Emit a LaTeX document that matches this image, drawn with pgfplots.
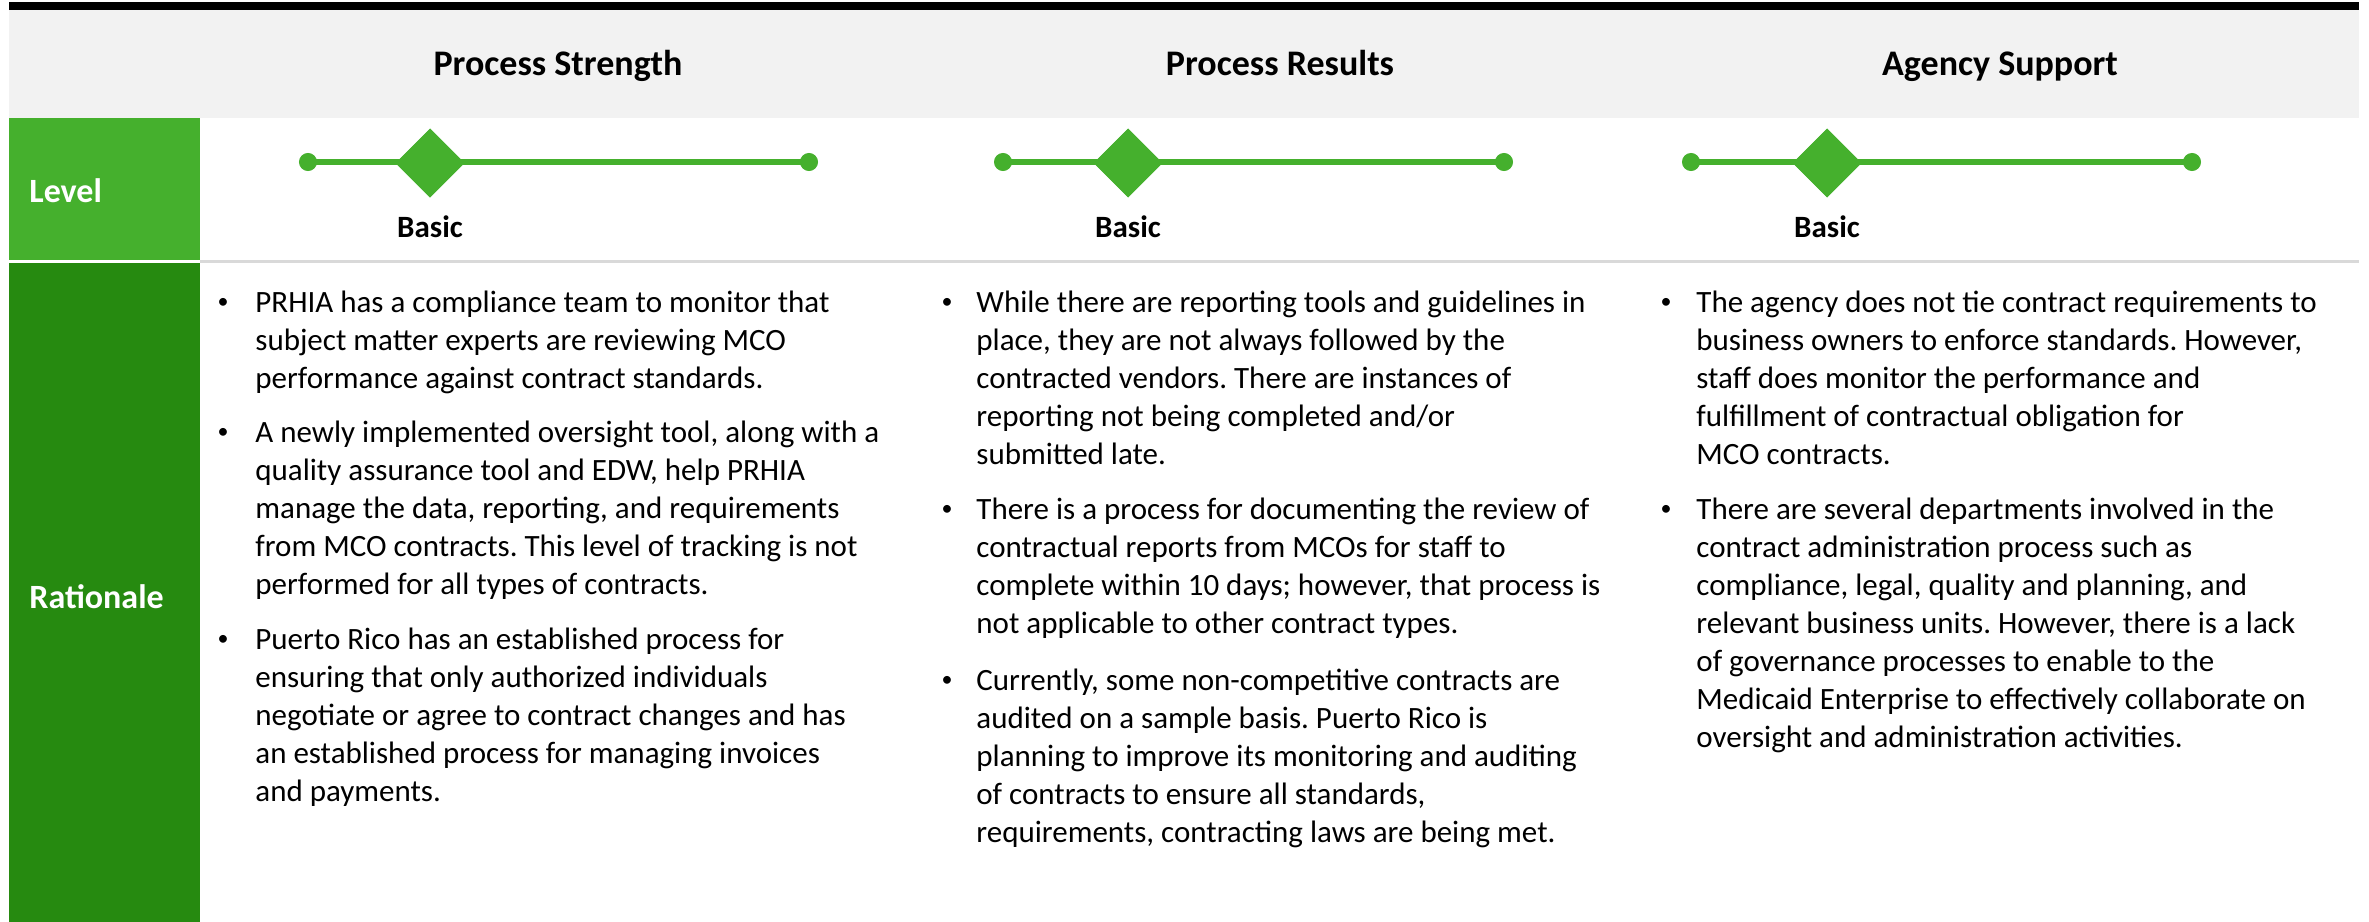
\documentclass[border=0pt]{standalone}
\usepackage{fontspec}
\setmainfont{Carlito}
\usepackage{pgfplots}
\pgfplotsset{compat=1.18}
\definecolor{lvgreen}{HTML}{45B02D}
\definecolor{rtgreen}{HTML}{268A10}
\definecolor{hdgray}{HTML}{F2F2F2}
\definecolor{sepgray}{HTML}{D9D9D9}
\frenchspacing
\newcommand\body{\fontsize{15.5pt}{19pt}\selectfont\frenchspacing}
\newcommand\tl[3]{\node[anchor=base west,font=\body,inner sep=0pt] at (axis cs:#1,#2) {#3};}
\newcommand\bu[2]{\node[anchor=base,font=\fontsize{11pt}{13pt}\selectfont,inner sep=0pt] at (axis cs:#1,#2-4) {\textbullet};}
\begin{document}
\begin{tikzpicture}
\begin{axis}[
  width=1184.5pt, height=461pt, scale only axis,
  xmin=0, xmax=2369, ymin=0, ymax=922, y dir=reverse,
  hide axis, clip=false]
% backgrounds
\addplot[fill=white, draw=none] coordinates {(0,0) (2369,0) (2369,922) (0,922)} -- cycle;
\addplot[fill=black, draw=none] coordinates {(9,2) (2359,2) (2359,10) (9,10)} -- cycle;
\addplot[fill=hdgray, draw=none] coordinates {(9,10) (2359,10) (2359,118) (9,118)} -- cycle;
\addplot[fill=lvgreen, draw=none] coordinates {(9,118) (200,118) (200,260) (9,260)} -- cycle;
\addplot[fill=rtgreen, draw=none] coordinates {(9,263) (200,263) (200,922) (9,922)} -- cycle;
\addplot[sepgray, line width=1.2pt] coordinates {(200,261.5) (2359,261.5)};
% level scales
\addplot[lvgreen, line width=3pt] coordinates {(308,162) (809,162)};
\addplot[lvgreen, line width=3pt] coordinates {(1003,162) (1504,162)};
\addplot[lvgreen, line width=3pt] coordinates {(1691,162) (2192,162)};
\addplot[only marks, mark=*, mark size=4.3pt, lvgreen] coordinates {(308,162) (809,162) (1003,162) (1504,162) (1691,162) (2192,162)};
\addplot[only marks, mark=square*, mark size=12pt, mark options={rotate=45}, lvgreen] coordinates {(430,163) (1128,163) (1827,163)};
% headers
\node[anchor=base, font=\fontsize{18pt}{22pt}\selectfont\bfseries] at (axis cs:558,75) {Process Strength};
\node[anchor=base, font=\fontsize{18pt}{22pt}\selectfont\bfseries] at (axis cs:1280,75) {Process Results};
\node[anchor=base, font=\fontsize{18pt}{22pt}\selectfont\bfseries] at (axis cs:2000,75) {Agency Support};
\node[anchor=base, font=\fontsize{15.5pt}{19pt}\selectfont\bfseries] at (axis cs:430,237) {Basic};
\node[anchor=base, font=\fontsize{15.5pt}{19pt}\selectfont\bfseries] at (axis cs:1128,237) {Basic};
\node[anchor=base, font=\fontsize{15.5pt}{19pt}\selectfont\bfseries] at (axis cs:1827,237) {Basic};
\node[anchor=base west, inner sep=0pt, text=white, font=\fontsize{17pt}{20pt}\selectfont\bfseries] at (axis cs:29,202) {Level};
\node[anchor=base west, inner sep=0pt, text=white, font=\fontsize{17pt}{20pt}\selectfont\bfseries] at (axis cs:29,609) {Rationale};
% column 1
\bu{223}{313}
\tl{255}{313}{PRHIA has a compliance team to monitor that}
\tl{255}{351}{subject matter experts are reviewing MCO}
\tl{255}{389}{performance against contract standards.}
\bu{223}{443}
\tl{255}{443}{A newly implemented oversight tool, along with a}
\tl{255}{481}{quality assurance tool and EDW, help PRHIA}
\tl{255}{519}{manage the data, reporting, and requirements}
\tl{255}{557}{from MCO contracts. This level of tracking is not}
\tl{255}{595}{performed for all types of contracts.}
\bu{223}{650}
\tl{255}{650}{Puerto Rico has an established process for}
\tl{255}{688}{ensuring that only authorized individuals}
\tl{255}{726}{negotiate or agree to contract changes and has}
\tl{255}{764}{an established process for managing invoices}
\tl{255}{802}{and payments.}
% column 2
\bu{947}{313}
\tl{976}{313}{While there are reporting tools and guidelines in}
\tl{976}{351}{place, they are not always followed by the}
\tl{976}{389}{contracted vendors. There are instances of}
\tl{976}{427}{reporting not being completed and/or}
\tl{976}{465}{submitted late.}
\bu{947}{520}
\tl{976}{520}{There is a process for documenting the review of}
\tl{976}{558}{contractual reports from MCOs for staff to}
\tl{976}{596}{complete within 10 days; however, that process is}
\tl{976}{634}{not applicable to other contract types.}
\bu{947}{691}
\tl{976}{691}{Currently, some non-competitive contracts are}
\tl{976}{729}{audited on a sample basis. Puerto Rico is}
\tl{976}{767}{planning to improve its monitoring and auditing}
\tl{976}{805}{of contracts to ensure all standards,}
\tl{976}{843}{requirements, contracting laws are being met.}
% column 3
\bu{1666}{313}
\tl{1696}{313}{The agency does not tie contract requirements to}
\tl{1696}{351}{business owners to enforce standards. However,}
\tl{1696}{389}{staff does monitor the performance and}
\tl{1696}{427}{fulfillment of contractual obligation for}
\tl{1696}{465}{MCO contracts.}
\bu{1666}{520}
\tl{1696}{520}{There are several departments involved in the}
\tl{1696}{558}{contract administration process such as}
\tl{1696}{596}{compliance, legal, quality and planning, and}
\tl{1696}{634}{relevant business units. However, there is a lack}
\tl{1696}{672}{of governance processes to enable to the}
\tl{1696}{710}{Medicaid Enterprise to effectively collaborate on}
\tl{1696}{748}{oversight and administration activities.}
\end{axis}
\end{tikzpicture}
\end{document}
